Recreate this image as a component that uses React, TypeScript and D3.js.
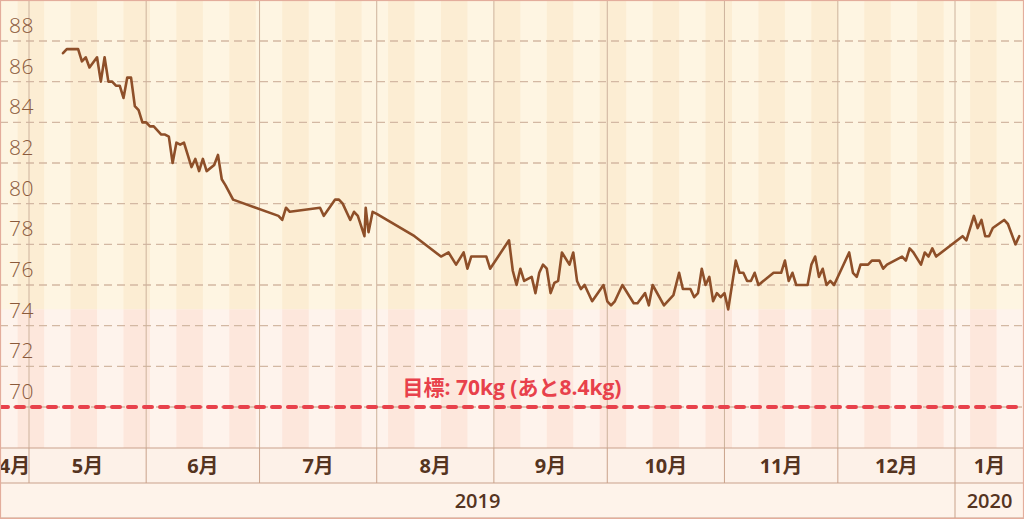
import React from "react";
import * as d3 from "d3";

const dates: string[] = [
  "2019-05-10","2019-05-11","2019-05-14","2019-05-15","2019-05-16","2019-05-17","2019-05-19","2019-05-20","2019-05-21","2019-05-22",
  "2019-05-23","2019-05-24","2019-05-25","2019-05-26","2019-05-27","2019-05-28","2019-05-29","2019-05-30","2019-05-31","2019-06-01",
  "2019-06-02","2019-06-03","2019-06-05","2019-06-06","2019-06-07","2019-06-08","2019-06-09","2019-06-10","2019-06-11","2019-06-13",
  "2019-06-14","2019-06-15","2019-06-16","2019-06-17","2019-06-19","2019-06-20","2019-06-21","2019-06-22","2019-06-24","2019-07-06",
  "2019-07-07","2019-07-08","2019-07-09","2019-07-17","2019-07-18","2019-07-21","2019-07-22","2019-07-23","2019-07-25","2019-07-26",
  "2019-07-27","2019-07-28T18:00Z","2019-07-29T02:00Z","2019-07-29T20:00Z","2019-07-30T22:00Z","2019-08-01","2019-08-11","2019-08-18","2019-08-20","2019-08-22",
  "2019-08-24","2019-08-25","2019-08-26","2019-08-30","2019-08-31","2019-09-05","2019-09-06","2019-09-07","2019-09-08","2019-09-09",
  "2019-09-10","2019-09-11","2019-09-12","2019-09-13","2019-09-14","2019-09-15","2019-09-16","2019-09-17","2019-09-18","2019-09-19",
  "2019-09-21","2019-09-22","2019-09-23","2019-09-24","2019-09-25","2019-09-27","2019-09-30","2019-10-01","2019-10-02","2019-10-03",
  "2019-10-05","2019-10-08","2019-10-09","2019-10-11","2019-10-12","2019-10-13","2019-10-16","2019-10-18T12:00Z","2019-10-20","2019-10-21",
  "2019-10-23","2019-10-24","2019-10-25","2019-10-26","2019-10-27","2019-10-28","2019-10-29","2019-10-30","2019-10-31","2019-11-01",
  "2019-11-02","2019-11-04","2019-11-05","2019-11-06","2019-11-07","2019-11-08","2019-11-09","2019-11-10","2019-11-14","2019-11-16",
  "2019-11-17","2019-11-18","2019-11-19","2019-11-20","2019-11-23","2019-11-24","2019-11-25","2019-11-26","2019-11-27","2019-11-28",
  "2019-11-29","2019-11-30","2019-12-02","2019-12-04","2019-12-05","2019-12-06","2019-12-07","2019-12-09","2019-12-10","2019-12-12",
  "2019-12-13","2019-12-14","2019-12-18","2019-12-19","2019-12-20","2019-12-21","2019-12-23","2019-12-24","2019-12-25","2019-12-26",
  "2019-12-27","2020-01-03","2020-01-04","2020-01-06","2020-01-07","2020-01-08","2020-01-09","2020-01-10","2020-01-11","2020-01-14",
  "2020-01-15","2020-01-17","2020-01-18",
];

const weights: number[] = [
  87.4,87.6,87.6,87.0,87.2,86.7,87.2,86.0,87.2,86.0,
  86.0,85.8,85.8,85.2,86.2,86.2,84.8,84.6,84.0,84.0,
  83.8,83.8,83.4,83.4,83.3,82.0,83.0,82.9,83.0,81.8,
  82.2,81.6,82.2,81.6,81.9,82.4,81.2,80.9,80.2,79.4,
  79.2,79.8,79.6,79.8,79.4,80.2,80.2,80.0,79.2,79.6,
  79.4,78.4,79.8,78.6,79.6,79.5,78.4,77.4,77.6,77.0,
  77.6,76.8,77.4,77.4,76.8,78.2,76.7,76.0,76.8,76.2,
  76.3,76.4,75.6,76.6,77.0,76.8,75.6,76.1,76.2,77.6,
  77.0,77.6,76.2,75.8,76.0,75.2,76.0,75.2,75.0,75.2,
  76.0,75.1,75.1,75.6,75.0,76.0,75.0,75.5,76.6,75.8,
  75.8,75.4,75.6,76.8,76.0,76.4,75.2,75.6,75.4,75.6,
  74.8,77.2,76.6,76.6,76.2,76.2,76.6,76.0,76.6,76.6,
  77.2,76.2,76.6,76.0,76.0,77.0,77.4,76.4,76.8,76.0,
  76.2,76.0,76.8,77.6,76.6,76.4,77.0,77.0,77.2,77.2,
  76.8,77.0,77.4,77.2,77.8,77.6,77.0,77.6,77.4,77.8,
  77.4,78.4,78.2,79.4,78.8,79.2,78.4,78.4,78.8,79.2,
  79.0,78.0,78.4,
];

const yTicks: number[] = [70, 72, 74, 76, 78, 80, 82, 84, 86, 88];
const monthLabels: string[] = ["4月", "5月", "6月", "7月", "8月", "9月", "10月", "11月", "12月", "1月"];
const yearLabels: string[] = ["2019", "2020"];
const goalWeight = 70;
const zoneBoundary = 74.8;
const goalLabel = "目標: 70kg (あと8.4kg)";

const W = 1024;
const H = 519;
const plotTop = 1;
const plotBottom = 448;
const monthBottom = 483;
const yearBottom = 518;

const axisFont = "'Open Sans', 'Noto Sans CJK JP', sans-serif";

export default function App() {
  const x = d3
    .scaleUtc()
    .domain([new Date(Date.UTC(2019, 4, 1)), new Date(Date.UTC(2020, 0, 1))])
    .range([29, 955]);
  const y = d3.scaleLinear().domain([70, 88]).range([407, 41]);

  const leftDate = x.invert(0);
  const rightDate = x.invert(W);

  const data = dates.map((d, i) => ({ date: new Date(d), value: weights[i] }));
  const line = d3
    .line<{ date: Date; value: number }>()
    .x((d) => x(d.date))
    .y((d) => y(d.value));

  const weeks = d3.utcSunday.range(d3.utcSunday.offset(leftDate, -1), rightDate);
  const refSunday = new Date(Date.UTC(2019, 3, 28));
  const yBoundary = y(zoneBoundary);

  const months = d3.utcMonth.range(
    new Date(Date.UTC(2019, 3, 1)),
    new Date(Date.UTC(2020, 1, 1))
  );
  const monthBounds = months.slice(1).map((m) => x(m));

  const yearStart2020 = x(new Date(Date.UTC(2020, 0, 1)));

  return (
    <svg
      width={W}
      height={H}
      style={{ position: "absolute", left: 0, top: 0, display: "block" }}
    >
      <defs>
        <clipPath id="plotClip">
          <rect x={0} y={plotTop} width={W} height={plotBottom - plotTop} />
        </clipPath>
      </defs>
      <rect x={0} y={0} width={W} height={H} fill="#fdf2e9" />
      <g clipPath="url(#plotClip)">
        <rect x={0} y={plotTop} width={W} height={yBoundary - plotTop} fill="#fef5e2" />
        <rect x={0} y={yBoundary} width={W} height={plotBottom - yBoundary} fill="#fef3ec" />
        {weeks.map((w, i) => {
          const k = Math.round((+w - +refSunday) / (7 * 86400000));
          if (Math.abs(k) % 2 !== 0) return null;
          const x0 = x(w);
          const x1 = x(d3.utcDay.offset(w, 7));
          return (
            <g key={i}>
              <rect x={x0} y={plotTop} width={x1 - x0} height={yBoundary - plotTop} fill="#fcedd3" />
              <rect x={x0} y={yBoundary} width={x1 - x0} height={plotBottom - yBoundary} fill="#fde7dc" />
            </g>
          );
        })}
        {yTicks.map((t) => (
          <line
            key={t}
            x1={0}
            x2={W}
            y1={y(t)}
            y2={y(t)}
            stroke="#d3b8a3"
            strokeWidth={1.3}
            strokeDasharray="8,5"
          />
        ))}
        {monthBounds.map((mx, i) => (
          <line key={i} x1={mx} x2={mx} y1={plotTop} y2={plotBottom} stroke="#cdb29c" strokeWidth={1} />
        ))}
      </g>

      {yTicks.map((t) => (
        <text
          key={t}
          x={9}
          y={y(t) - 8}
          fontSize={21}
          fontWeight={300}
          letterSpacing={0.5}
          fill="#8b5a3b"
          fontFamily="'Open Sans', Lato, sans-serif"
        >
          {t}
        </text>
      ))}

      <path
        d={line(data) || ""}
        fill="none"
        stroke="#8e4f29"
        strokeWidth={2.6}
        strokeLinejoin="round"
        strokeLinecap="round"
      />

      <line
        x1={0}
        x2={W}
        y1={y(goalWeight)}
        y2={y(goalWeight)}
        stroke="#e8414b"
        strokeWidth={4}
        strokeDasharray="8,8"
        strokeLinecap="round"
      />
      <text
        x={512}
        y={y(goalWeight) - 12}
        textAnchor="middle"
        fontSize={21}
        fontWeight={700}
        fill="#e8414b"
        fontFamily={axisFont}
      >
        {goalLabel}
      </text>

      <rect x={0} y={plotBottom} width={W} height={monthBottom - plotBottom} fill="#fdf1e8" />
      <rect x={0} y={monthBottom} width={W} height={yearBottom - monthBottom} fill="#fef3ea" />
      {[plotBottom, monthBottom, yearBottom].map((yy, i) => (
        <line key={i} x1={0} x2={W} y1={yy} y2={yy} stroke="#c9a28b" strokeWidth={1.2} />
      ))}
      {monthBounds.map((mx, i) => (
        <line key={i} x1={mx} x2={mx} y1={plotBottom} y2={monthBottom} stroke="#c9a28b" strokeWidth={1} />
      ))}
      <line x1={yearStart2020} x2={yearStart2020} y1={monthBottom} y2={yearBottom} stroke="#c9a28b" strokeWidth={1} />

      {months.map((m, i) => {
        const a = Math.max(0, x(m));
        const b = Math.min(W, x(d3.utcMonth.offset(m, 1)));
        return (
          <text
            key={i}
            x={(a + b) / 2}
            y={473}
            textAnchor="middle"
            fontSize={20}
            fontWeight={700}
            fill="#55341f"
            fontFamily={axisFont}
          >
            {monthLabels[i]}
          </text>
        );
      })}
      {yearLabels.map((lab, i) => {
        const a = i === 0 ? 0 : yearStart2020;
        const b = i === 0 ? yearStart2020 : W;
        return (
          <text
            key={lab}
            x={(a + b) / 2}
            y={508}
            textAnchor="middle"
            fontSize={20}
            fontWeight={600}
            fill="#55341f"
            fontFamily={axisFont}
          >
            {lab}
          </text>
        );
      })}

      <rect x={0.5} y={0.5} width={W - 1} height={H - 1} fill="none" stroke="#e3ad9c" strokeWidth={1.2} />
    </svg>
  );
}
